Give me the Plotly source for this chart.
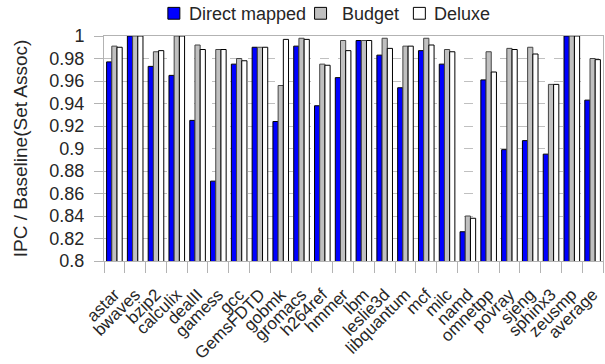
import plotly.graph_objects as go

benchmarks = ["astar", "bwaves", "bzip2", "calculix", "dealII", "gamess", "gcc",
              "GemsFDTD", "gobmk", "gromacs", "h264ref", "hmmer", "lbm", "leslie3d",
              "libquantum", "mcf", "milc", "namd", "omnetpp", "povray", "sjeng",
              "sphinx3", "zeusmp", "average"]

direct_mapped = [0.977, 1.000, 0.973, 0.965, 0.925, 0.871, 0.975, 0.990, 0.924, 0.991,
                 0.938, 0.963, 0.996, 0.983, 0.954, 0.987, 0.975, 0.826, 0.961, 0.899,
                 0.907, 0.895, 1.000, 0.943]
budget = [0.991, 1.000, 0.986, 1.000, 0.992, 0.988, 0.980, 0.990, 0.956, 0.998,
          0.975, 0.996, 0.996, 0.998, 0.991, 0.998, 0.988, 0.840, 0.986, 0.989,
          0.990, 0.957, 1.000, 0.980]
deluxe = [0.990, 1.000, 0.987, 1.000, 0.988, 0.988, 0.978, 0.990, 0.997, 0.997,
          0.974, 0.987, 0.996, 0.989, 0.991, 0.992, 0.986, 0.838, 0.968, 0.988,
          0.984, 0.957, 1.000, 0.979]

series_names = ["Direct mapped", "Budget", "Deluxe"]
series_colors = ["#0000ff", "#c0c0c0", "#ffffff"]
series_lines = ["#000000", "#444444", "#000000"]

y_ticks = [0.8, 0.82, 0.84, 0.86, 0.88, 0.9, 0.92, 0.94, 0.96, 0.98, 1.0]
y_tick_text = ["0.8", "0.82", "0.84", "0.86", "0.88", "0.9", "0.92", "0.94", "0.96", "0.98", "1"]

FONT = "Liberation Sans, Arial, sans-serif"
TEXT = "#262626"
AXIS = "#b3b3b3"

fig = go.Figure()
for name, vals, col, lc in zip(series_names, [direct_mapped, budget, deluxe],
                               series_colors, series_lines):
    fig.add_trace(go.Bar(x=benchmarks, y=vals, name=name,
                         marker=dict(color=col, line=dict(color=lc, width=1)),
                         showlegend=False))

# Legend drawn as swatches + labels above the plot (paper coordinates)
legend_items = [(0.128, 0.166), (0.422, 0.472), (0.620, 0.658)]
shapes = []
annotations = []
for (sx, tx), name, col in zip(legend_items, series_names, series_colors):
    shapes.append(dict(type="rect", xref="paper", yref="paper",
                       x0=sx, x1=sx + 0.024, y0=1.0746, y1=1.1272,
                       fillcolor=col, line=dict(color="#000000", width=1)))
    annotations.append(dict(xref="paper", yref="paper", x=tx, y=1.0987,
                            text=name, showarrow=False, xanchor="left", yanchor="middle",
                            font=dict(family=FONT, size=18, color=TEXT)))

fig.update_layout(
    width=605, height=364,
    margin=dict(l=104, r=1, t=36, b=100),
    paper_bgcolor="white", plot_bgcolor="white",
    barmode="group", bargap=0.25, bargroupgap=0,
    font=dict(family=FONT, size=18, color=TEXT),
    shapes=shapes, annotations=annotations,
)
fig.update_xaxes(
    type="category", tickangle=-45, tickson="boundaries",
    ticks="outside", ticklen=11, tickcolor=AXIS, tickwidth=1,
    showline=True, linecolor=AXIS, linewidth=1, mirror=True,
    showgrid=False, ticklabelstandoff=16,
    tickfont=dict(family=FONT, size=17, color=TEXT),
)
fig.update_yaxes(
    range=[0.8, 1.0], tickvals=y_ticks, ticktext=y_tick_text,
    ticks="outside", ticklen=9, tickcolor=AXIS, tickwidth=1,
    showline=True, linecolor=AXIS, linewidth=1, mirror=True,
    showgrid=True, gridcolor="#c0c0c0", griddash="dash", gridwidth=1,
    zeroline=False, ticklabelstandoff=6,
    tickfont=dict(family=FONT, size=18, color=TEXT),
    title=dict(text="IPC / Baseline(Set Assoc)", standoff=16,
               font=dict(family=FONT, size=19, color=TEXT)),
)

fig.write_html("out.html")
